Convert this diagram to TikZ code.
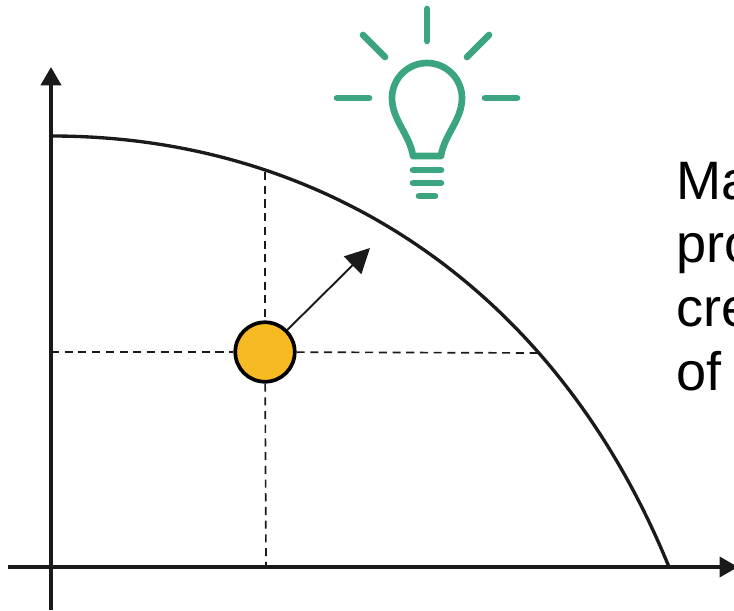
\documentclass[tikz,border=0pt]{standalone}
\usepackage{fontspec}
\setmainfont{Liberation Sans}
\usetikzlibrary{arrows.meta}
\definecolor{axisblack}{HTML}{1A1A1A}
\definecolor{bulbgreen}{HTML}{3AA57E}
\definecolor{dotyellow}{HTML}{F8BA22}
\tikzset{
  axisline/.style={axisblack, line width=2.2pt, -{Triangle[length=10.5pt,width=11.5pt]}},
  frontier/.style={axisblack, line width=1.9pt},
  guideline/.style={axisblack, line width=0.95pt, dash pattern=on 4.6pt off 3.2pt},
  bulbline/.style={bulbgreen, line width=3.8pt, line cap=round, line join=round},
}
\begin{document}
\begin{tikzpicture}[x=0.02cm, y=-0.02cm]
        \useasboundingbox (0,0) rectangle (734,610);

        % Axes
        \coordinate (xstart) at (8,567);
        \coordinate (xend) at (738,567);
        \coordinate (ystart) at (51,610);
        \coordinate (yend) at (51,67);
        \draw[axisline, line width=1.8pt] (xstart) -- (xend);
        \draw[axisline] (ystart) -- (yend);

        % Frontier curve
        \coordinate (ftop) at (52,136);
        \coordinate (fbottom) at (669,567);
        \draw[frontier] (ftop) .. controls (315,136) and (552,280) .. (fbottom);

        % Point and its guide lines
        \node[circle, draw=black, fill=dotyellow, line width=2.1pt, inner sep=0pt, minimum size=1.19cm] (dot) at (265,352) {};
        \coordinate (gtop) at (265,172);
        \coordinate (gleft) at (51,352);
        \coordinate (gright) at (541,353);
        \coordinate (gbottom) at (266,567);
        \draw[guideline] (gtop) -- (dot);
        \draw[guideline] (gleft) -- (dot);
        \draw[guideline] (dot) -- (gright);
        \draw[guideline] (dot) -- (gbottom);

        % Arrow towards the frontier
        \coordinate (atip) at (370,248);
        \draw[axisblack, line width=1.1pt, -{Triangle[length=14pt,width=14pt]}] (dot) -- (atip);

        % Light bulb
        \draw[bulbline] (413,156) .. controls (410,135) and (392,120) .. (392,98)
            arc[start angle=180, end angle=360, radius=35]
            .. controls (462,120) and (444,135) .. (441,156) -- cycle;
        \draw[bulbline] (427,9) -- (427,41);
        \draw[bulbline] (337,98) -- (369,98);
        \draw[bulbline] (485,98) -- (517,98);
        \draw[bulbline] (363,35) -- (385,57);
        \draw[bulbline] (489,35) -- (467,57);
        \draw[bulbline] (413,170) -- (441,170);
        \draw[bulbline] (413,183) -- (441,183);
        \draw[bulbline] (419,196) -- (435,196);

        % Cut off text
        \node[anchor=north west, inner sep=0pt, align=left, font=\fontsize{30.8pt}{36.3pt}\selectfont] (caption) at (676,161.5) {Ma\\pro\\cre\\of};
    \end{tikzpicture}
\end{document}
